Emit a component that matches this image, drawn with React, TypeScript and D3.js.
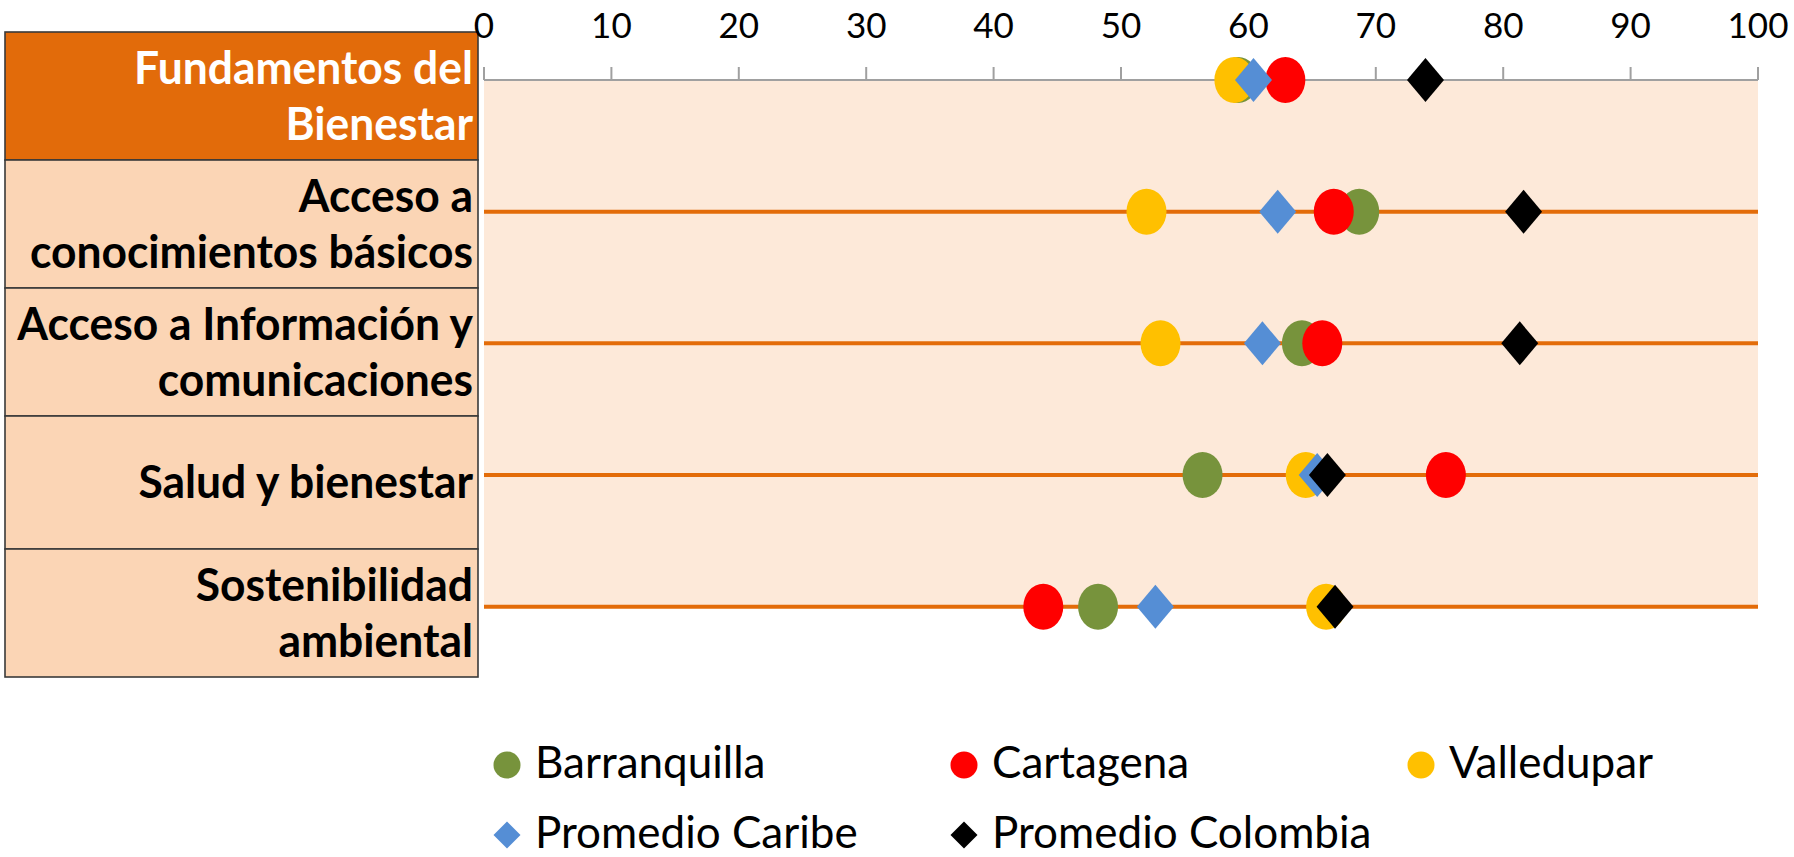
import React from "react";
import * as d3 from "d3";

// ---------- data ----------
const categories = [
  "Fundamentos del\nBienestar",
  "Acceso a\nconocimientos básicos",
  "Acceso a Información y\ncomunicaciones",
  "Salud y bienestar",
  "Sostenibilidad\nambiental",
];
const barranquilla = [59.2, 68.7, 64.2, 56.4, 48.2];
const cartagena = [62.9, 66.7, 65.8, 75.5, 43.9];
const valledupar = [58.9, 52.0, 53.1, 64.5, 66.1];
const promedioCaribe = [60.4, 62.3, 61.1, 65.4, 52.7];
const promedioColombia = [73.9, 81.6, 81.3, 66.2, 66.8];
const tickValues = [0, 10, 20, 30, 40, 50, 60, 70, 80, 90, 100];

const seriesNames = ["Barranquilla", "Cartagena", "Valledupar", "Promedio Caribe", "Promedio Colombia"];
const seriesValues = [barranquilla, cartagena, valledupar, promedioCaribe, promedioColombia];
const seriesColors = ["#77933C", "#FF0000", "#FFC000", "#558ED5", "#000000"];
const seriesShapes = ["circle", "circle", "circle", "diamond", "diamond"];

// ---------- layout ----------
const W = 1794;
const H = 857;
const plotLeft = 484;
const plotRight = 1758;
const firstRowY = 80;
const lastRowY = 606.7;
const tableLeft = 5;
const tableRight = 478;
const tableEdges = [32, 160, 288, 416, 549, 677];
const FONT = "Lato, 'Open Sans', sans-serif";

const x = d3.scaleLinear().domain([0, 100]).range([plotLeft, plotRight]);
const y = d3.scalePoint<string>().domain(categories).range([firstRowY, lastRowY]);

function Marker({ shape, cx, cy, color, rx, ry }: any) {
  if (shape === "circle") {
    return <ellipse cx={cx} cy={cy} rx={rx} ry={ry} fill={color} />;
  }
  const p = d3.path();
  p.moveTo(cx, cy - ry);
  p.lineTo(cx + rx, cy);
  p.lineTo(cx, cy + ry);
  p.lineTo(cx - rx, cy);
  p.closePath();
  return <path d={p.toString()} fill={color} />;
}

const legendCols = [507, 964, 1421];
const legendRows = [765, 835];

export default function App() {
  const labelX = tableRight - 5;
  const sx = 0.965;
  return (
    <svg
      width={W}
      height={H}
      style={{ position: "absolute", left: 0, top: 0, background: "#fff" }}
      fontFamily={FONT}
    >
      {/* table of category labels */}
      {categories.map((c, i) => {
        const top = tableEdges[i];
        const bottom = tableEdges[i + 1];
        const lines = c.split("\n");
        const mid = (top + bottom) / 2;
        const lh = 56;
        return (
          <g key={c}>
            <rect
              x={tableLeft}
              y={top}
              width={tableRight - tableLeft}
              height={bottom - top}
              fill={i === 0 ? "#E26B0A" : "#FBD5B5"}
              stroke="#3a3a3a"
              strokeWidth={1.6}
            />
            <g transform={`translate(${labelX},0) scale(${sx},1)`}>
              {lines.map((ln, j) => (
                <text
                  key={j}
                  x={0}
                  y={mid + (j - (lines.length - 1) / 2) * lh + 16}
                  textAnchor="end"
                  fontSize={46}
                  fontWeight="bold"
                  fill={i === 0 ? "#FFFFFF" : "#000000"}
                >
                  {ln}
                </text>
              ))}
            </g>
          </g>
        );
      })}

      {/* plot background */}
      <rect
        x={plotLeft}
        y={firstRowY}
        width={plotRight - plotLeft}
        height={lastRowY - firstRowY}
        fill="#FDE9D9"
      />

      {/* category lines */}
      {categories.slice(1).map((c) => (
        <line
          key={c}
          x1={plotLeft}
          x2={plotRight}
          y1={y(c)}
          y2={y(c)}
          stroke="#E36C09"
          strokeWidth={4}
        />
      ))}

      {/* top axis */}
      <line x1={plotLeft} x2={plotRight} y1={firstRowY} y2={firstRowY} stroke="#A0A0A0" strokeWidth={2} />
      {tickValues.map((t) => (
        <g key={t}>
          <line x1={x(t)} x2={x(t)} y1={firstRowY - 13} y2={firstRowY} stroke="#A0A0A0" strokeWidth={2} />
          <text x={x(t)} y={38} textAnchor="middle" fontSize={35} fill="#000">
            {t}
          </text>
        </g>
      ))}

      {/* markers */}
      {seriesValues.map((vals, s) =>
        vals.map((v, i) => (
          <Marker
            key={`${s}-${i}`}
            shape={seriesShapes[s]}
            cx={x(v)}
            cy={y(categories[i])}
            color={seriesColors[s]}
            rx={seriesShapes[s] === "circle" ? 20 : 18.5}
            ry={seriesShapes[s] === "circle" ? 23 : 22}
          />
        ))
      )}

      {/* legend */}
      {seriesNames.map((n, s) => {
        const cx = legendCols[s % 3];
        const cy = legendRows[Math.floor(s / 3)];
        return (
          <g key={n}>
            <Marker shape={seriesShapes[s]} cx={cx} cy={cy} color={seriesColors[s]} rx={13.5} ry={13.5} />
            <text x={cx + 28} y={cy + 13} fontSize={44} fill="#000">
              {n}
            </text>
          </g>
        );
      })}
    </svg>
  );
}
